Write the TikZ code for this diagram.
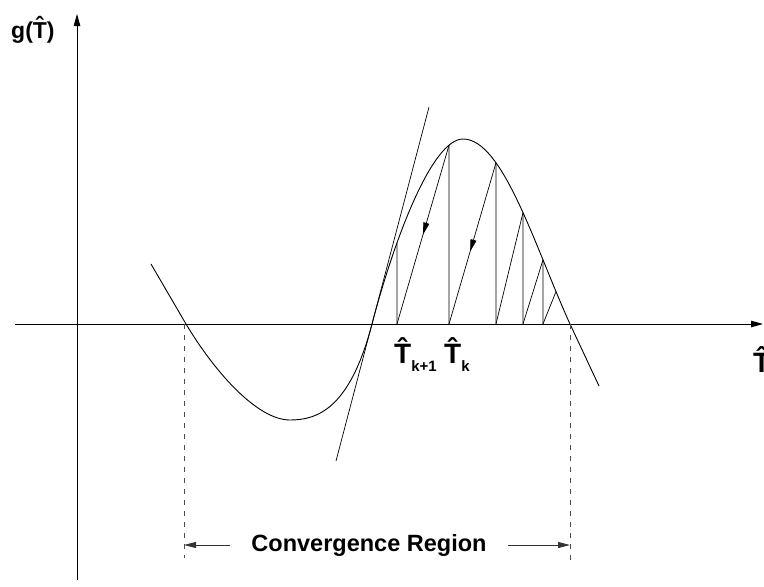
\documentclass[tikz,border=0pt]{standalone}
\usepackage{fontspec}
\setmainfont{Liberation Sans}
\usetikzlibrary{arrows.meta, decorations.markings, intersections, calc}

\begin{document}
\begin{tikzpicture}[
  x=1pt, y=-1pt,
  axis/.style={-{Triangle[length=12pt, width=6.5pt]}, line width=1pt},
  curve/.style={line width=0.9pt},
  iter/.style={line width=0.7pt},
  guide/.style={line width=0.8pt, dash pattern=on 5pt off 6pt, black!70},
  arr/.style={-{Triangle[length=12pt, width=6pt]}, line width=0.8pt, black!80},
  midarr/.style={postaction={decorate}, decoration={markings, mark=at position #1 with {\arrow{Triangle[length=12pt, width=6pt]}}}},
  lbl/.style={font=\bfseries\fontsize{#1}{#1}\selectfont, inner sep=0pt},
]
\useasboundingbox (0,0) rectangle (764,587);

% Axes
\coordinate (xl) at (15,324);
\coordinate (xr) at (763,324);
\coordinate (yb) at (77,580);
\coordinate (yt) at (77,14);
\draw[axis] (xl) -- (xr);
\draw[axis] (yb) -- (yt);
\node[lbl=23, anchor=base west] (glabel) at (11,38) {g(\^{T})};
\node[lbl=28, anchor=base west] (tlabel) at (753,372) {\^{T}};

% Curve g(T)
\draw[curve, name path=g] (151,264) -- (186,324)
  .. controls (216,374) and (258,420) .. (290,420)
  .. controls (318,420) and (350,408) .. (372,324)
  .. controls (394,240) and (432,139) .. (463,139)
  .. controls (503,139) and (535,247) .. (570,324)
  -- (599,386);

% Tangent at the root
\coordinate (tb) at (336,461);
\coordinate (tt) at (429,107);
\draw[iter] (tb) -- (tt);

% Iterates on the axis and on the curve
\foreach \x [count=\i] in {397, 449, 496, 523, 543, 556} {
  \coordinate (t\i) at (\x,324);
  \path[name path=v\i] (\x,324) -- (\x,100);
  \path[name intersections={of=g and v\i, by={c\i}}];
}
\foreach \i in {1,...,5} {
  \draw[iter] (t\i) -- (c\i);
}

% Steps back down to the axis
\draw[iter, midarr=0.5] (c2) -- (t1);
\draw[iter, midarr=0.55] (c3) -- (t2);
\draw[iter] (c4) -- (t3);
\draw[iter] (c5) -- (t4);
\draw[iter] (c6) -- (t5);

% Labels of the iterates
\node[lbl=28, anchor=base west] (tk1) at (394,363) {\^{T}\raisebox{-8pt}{\fontsize{15}{15}\selectfont k+1}};
\node[lbl=28, anchor=base west] (tk) at (444,363) {\^{T}\raisebox{-8pt}{\fontsize{15}{15}\selectfont k}};

% Convergence region
\coordinate (lz) at (184,324);
\coordinate (lb) at (184,558);
\coordinate (rz) at (570,324);
\coordinate (rb) at (570,562);
\draw[guide] (lz) -- (lb);
\draw[guide] (rz) -- (rb);
\node[lbl=23.5, inner xsep=21pt] (region) at (369,545) {Convergence Region};
\draw[arr] (region.west) -- (region.west -| lz);
\draw[arr] (region.east) -- (region.east -| rz);
\end{tikzpicture}
\end{document}
